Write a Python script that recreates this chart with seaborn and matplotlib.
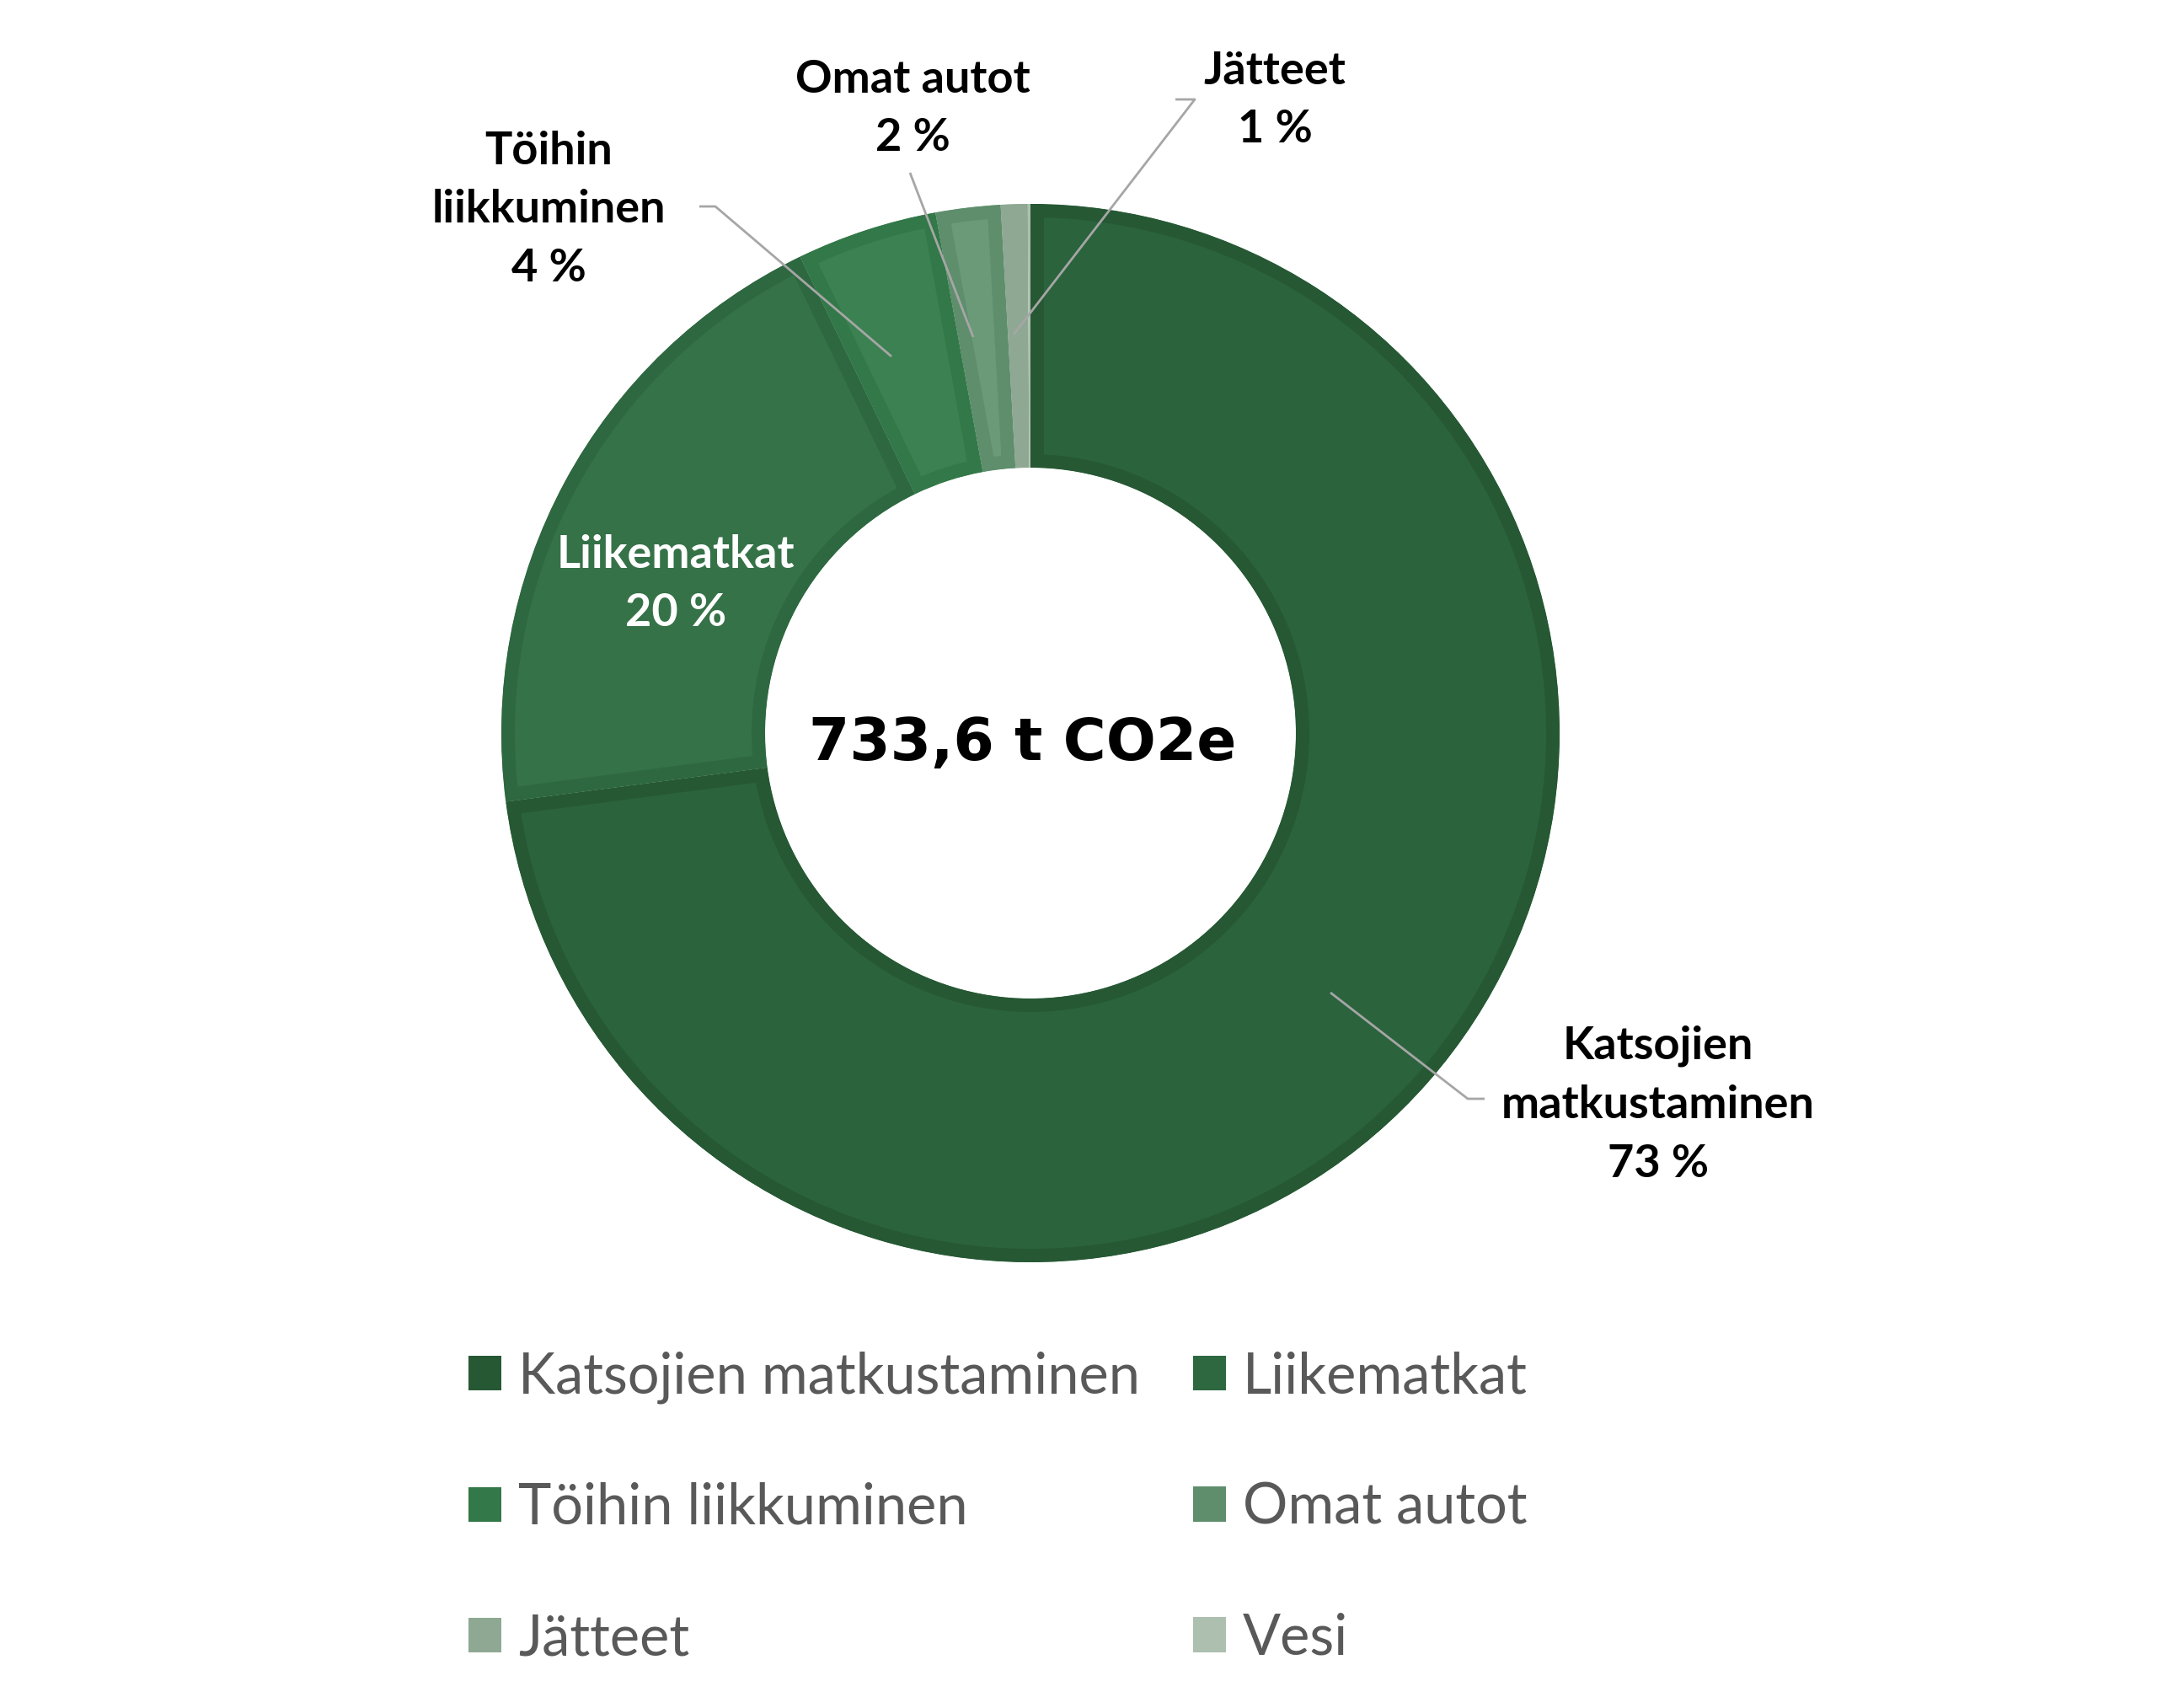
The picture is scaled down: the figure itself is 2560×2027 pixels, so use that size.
import matplotlib
matplotlib.use("Agg")
import matplotlib.pyplot as plt
from matplotlib.patches import Patch
import numpy as np
import seaborn as sns

# emissions by source, t CO2e (total 733,6)
categories = ["Katsojien matkustaminen", "Liikematkat", "Töihin liikkuminen",
              "Omat autot", "Jätteet", "Vesi"]
values = [535.0, 146.0, 31.5, 14.5, 6.0, 0.6]
label_text = ["Katsojien\nmatkustaminen", "Liikematkat", "Töihin\nliikkuminen",
              "Omat autot", "Jätteet", None]
center_label = "733,6 t CO2e"

face_colors = ["#2b633d", "#357248", "#3b8151", "#6a9a78", "#8faa96", "#d6dfd6"]
edge_colors = ["#265834", "#2e6840", "#337848", "#5e8e6c", "#8fa893", "#adbfaf"]

sns.set_theme(style="white")
plt.rcParams["font.family"] = ["Lato", "DejaVu Sans"]

W, H = 2560, 2027
fig = plt.figure(figsize=(W / 100, H / 100), dpi=100)
ax = fig.add_axes([0, 0, 1, 1])
ax.axis("off")

cx, cy = 1223, 870
R, R_in = 628, 315

wedges, _ = ax.pie(values, startangle=-90, counterclock=True, radius=R,
                   center=(cx, cy), colors=face_colors,
                   wedgeprops=dict(width=R - R_in, linewidth=23))
for w, ec in zip(wedges, edge_colors):
    w.set_edgecolor(ec)
    w.set_clip_path(w)  # keep stroke inside the wedge
    w.set_clip_on(True)
ax.set_aspect("equal")
ax.set_xlim(0, W)
ax.set_ylim(H, 0)  # image-like coords

total = sum(values)
pcts = [round(v / total * 100) for v in values]

# label positions and leader lines (layout only)
label_pos = [(1968, 1311), (802, 693), (651, 249), (1083, 129), (1513, 119)]
leaders = [
    [(1579, 1178), (1742, 1304), (1762, 1304)],
    None,
    [(1058, 423), (849, 245), (830, 245)],
    [(1155, 400), (1080, 205)],
    [(1203, 397), (1418, 118), (1395, 118)],
]
for i, (txt, pos, ld) in enumerate(zip(label_text[:5], label_pos, leaders)):
    color = "white" if i == 1 else "black"
    ax.text(pos[0], pos[1], f"{txt}\n{pcts[i]} %", ha="center", va="center",
            fontsize=39, fontweight="bold", color=color, linespacing=1.52)
    if ld is not None:
        xs, ys = zip(*ld)
        ax.plot(xs, ys, color="#a6a6a6", lw=2, solid_capstyle="butt")

ax.text(1214, 883, center_label, ha="center", va="center", fontsize=50,
        fontweight="heavy", color="black", family=["DejaVu Sans"])

# legend filled row by row, like the original
order = [0, 2, 4, 1, 3, 5]
handles = [Patch(facecolor=edge_colors[i], edgecolor="none") for i in order]
ax.legend(handles, [categories[i] for i in order], ncol=2, loc="upper left",
          bbox_to_anchor=(556, 1603), bbox_transform=ax.transData,
          frameon=False, fontsize=48, labelcolor="#595959",
          handlelength=0.58, handleheight=0.58, handletextpad=0.3,
          columnspacing=0.95, labelspacing=1.4, borderpad=0, borderaxespad=0)

fig.savefig("out.png", dpi=100, facecolor="white")
